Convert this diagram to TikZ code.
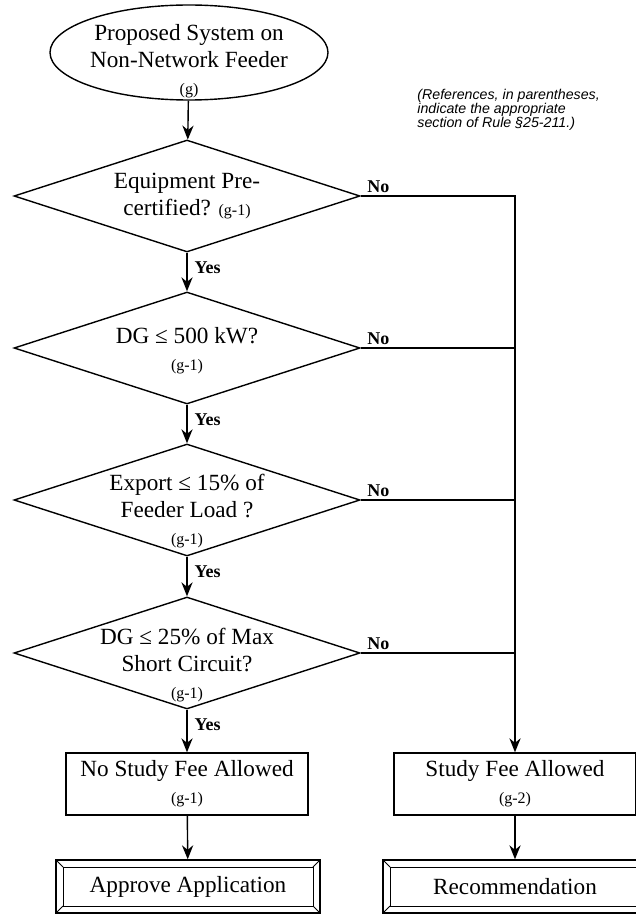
\documentclass[tikz,border=0pt]{standalone}
\usepackage{fontspec}
\setmainfont{Liberation Serif}
\setsansfont{Liberation Sans}
\usetikzlibrary{arrows.meta,positioning,shapes.geometric}
\newcommand{\refsz}{\fontsize{8}{9}\selectfont}
\tikzset{
  flow/.style={-{Stealth[length=7pt,width=5.6pt]},line width=0.7pt},
  plain/.style={line width=0.7pt},
  start/.style={ellipse,draw,line width=0.7pt,minimum width=139pt,minimum height=47.5pt,inner sep=0pt},
  decision/.style={diamond,draw,line width=0.7pt,minimum width=173pt,minimum height=56pt,inner sep=0pt},
  qtext/.style={align=center,font=\fontsize{11.6}{13.5}\selectfont,inner sep=0pt},
  proc/.style={rectangle,draw,line width=0.7pt,minimum width=121pt,minimum height=31pt,align=center,
               font=\fontsize{11.6}{13.5}\selectfont,inner sep=0pt},
  endbox/.style={rectangle,draw,line width=0.7pt,minimum width=132pt,minimum height=26.5pt,
               font=\fontsize{11.6}{13.5}\selectfont,inner sep=0pt,
               path picture={
                 \draw[line width=0.5pt] ([shift={(3.5pt,3.5pt)}]path picture bounding box.south west)
                   rectangle ([shift={(-3.5pt,-3.5pt)}]path picture bounding box.north east);
                 \foreach \c/\dx/\dy in {south west/3.5/3.5,south east/-3.5/3.5,north east/-3.5/-3.5,north west/3.5/-3.5}
                   \draw[line width=0.5pt] (path picture bounding box.\c) -- ++(\dx pt,\dy pt);
               }},
  nolbl/.style={anchor=south west,inner sep=0pt,xshift=3pt,yshift=1.5pt,font=\bfseries\fontsize{9}{10}\selectfont},
  yeslbl/.style={anchor=north west,inner sep=0pt,xshift=3.5pt,yshift=-4pt,font=\bfseries\fontsize{9}{10}\selectfont},
  note/.style={anchor=north west,align=left,inner sep=0pt,font=\sffamily\itshape\fontsize{7.1}{7}\selectfont},
}
\begin{document}
\begin{tikzpicture}[x=0.5pt,y=-0.5pt]
  \useasboundingbox (0,0) rectangle (636,915);
  % start and note
  \node[start,label={[qtext,yshift=-4.5pt]center:Proposed System on\\Non-Network Feeder\\{\refsz(g)}}] (prop) at (189,52.5) {};
  \node[note] (refnote) at (417,89) {(References, in parentheses,\\indicate the appropriate\\section of Rule §25-211.)};
  % decisions
  \node[decision,label={[qtext]center:Equipment Pre-\\certified? {\refsz(g-1)}}] (cert) at (187,196) {};
  \node[decision,label={[qtext,yshift=-1.5pt]center:DG ≤ 500 kW?\\{\refsz(g-1)}}] (size) at (187,348) {};
  \node[decision,label={[qtext,yshift=-5.5pt]center:Export ≤ 15\% of\\Feeder Load ?\\{\refsz(g-1)}}] (export) at (187,500) {};
  \node[decision,label={[qtext,yshift=-6pt]center:DG ≤ 25\% of Max\\Short Circuit?\\{\refsz(g-1)}}] (short) at (187,653) {};
  % outcomes
  \node[proc] (nofee) at (187,784) {No Study Fee Allowed\\{\refsz(g-1)}};
  \node[proc] (fee) at (515,784) {Study Fee Allowed\\{\refsz(g-2)}};
  \node[endbox] (approve) at (188,886.5) {Approve Application};
  \node[endbox] (recomm) at (515,886.5) {Recommendation};
  % yes path
  \draw[flow] (prop) -- (cert);
  \draw[flow] (cert) -- node[yeslbl,at start]{Yes} (size);
  \draw[flow] (size) -- node[yeslbl,at start]{Yes} (export);
  \draw[flow] (export) -- node[yeslbl,at start]{Yes} (short);
  \draw[flow] (short) -- node[yeslbl,at start]{Yes} (nofee);
  \draw[flow] (nofee) -- (approve);
  \draw[flow] (fee) -- (recomm);
  % no path
  \draw[flow] (cert.east) node[nolbl]{No} -| (fee.north);
  \foreach \d in {size,export,short}
    \draw[plain] (\d.east) node[nolbl]{No} -- (\d.east -| fee.north);
\end{tikzpicture}
\end{document}
